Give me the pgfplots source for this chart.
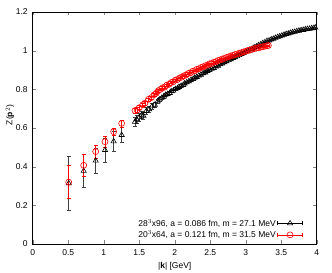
\documentclass[border=0pt]{standalone}
\usepackage{fontspec}
\setmainfont{Liberation Sans}
\usepackage{pgfplots}
\pgfplotsset{compat=1.18}
\usepackage{pgfplotstable}

% 28^3x96 lattice
\pgfplotstableread{
k z e
0.507 0.314 0.142
0.718 0.378 0.086
0.887 0.431 0.065
1.018 0.486 0.062
1.140 0.531 0.050
1.253 0.564 0.040
1.440 0.632 0.025
1.465 0.645 0.022
1.500 0.655 0.020
1.535 0.668 0.020
1.560 0.663 0.018
1.600 0.688 0.018
1.640 0.697 0.015
1.680 0.712 0.015
1.720 0.720 0.012
1.760 0.738 0.012
1.790 0.748 0.010
1.82 0.757 0.009
1.85 0.762 0.009
1.87 0.771 0.008
1.90 0.776 0.008
1.93 0.781 0.008
1.95 0.790 0.007
1.98 0.793 0.007
2.01 0.801 0.007
2.04 0.806 0.006
2.06 0.812 0.006
2.09 0.818 0.006
2.12 0.822 0.006
2.14 0.830 0.005
2.17 0.836 0.005
2.20 0.841 0.005
2.23 0.849 0.005
2.26 0.853 0.005
2.28 0.860 0.005
2.31 0.864 0.004
2.34 0.871 0.004
2.37 0.875 0.004
2.40 0.883 0.004
2.43 0.887 0.004
2.46 0.895 0.004
2.49 0.899 0.004
2.52 0.906 0.004
2.55 0.910 0.004
2.58 0.918 0.003
2.61 0.922 0.003
2.64 0.929 0.003
2.67 0.933 0.003
2.70 0.940 0.003
2.73 0.945 0.003
2.76 0.951 0.003
2.79 0.955 0.003
2.82 0.962 0.003
2.85 0.966 0.003
2.88 0.972 0.003
2.91 0.977 0.003
2.94 0.983 0.003
2.97 0.988 0.003
3.00 0.995 0.003
3.03 0.999 0.003
3.06 1.006 0.003
3.09 1.010 0.003
3.12 1.017 0.003
3.15 1.021 0.003
3.18 1.028 0.003
3.21 1.032 0.003
3.24 1.039 0.003
3.27 1.043 0.003
3.30 1.050 0.003
3.33 1.052 0.003
3.36 1.058 0.003
3.39 1.061 0.003
3.42 1.066 0.003
3.45 1.070 0.003
3.48 1.074 0.003
3.51 1.078 0.003
3.54 1.082 0.003
3.57 1.086 0.003
3.60 1.088 0.003
3.63 1.092 0.003
3.66 1.095 0.003
3.69 1.097 0.003
3.72 1.101 0.003
3.75 1.103 0.003
3.78 1.106 0.003
3.81 1.107 0.003
3.84 1.110 0.003
3.87 1.112 0.003
3.90 1.113 0.003
3.93 1.116 0.003
3.96 1.117 0.003
3.98 1.119 0.003
}\finelat

% 20^3x64 lattice
\pgfplotstableread{
k z e
0.507 0.320 0.086
0.718 0.407 0.058
0.887 0.478 0.035
1.018 0.529 0.030
1.140 0.581 0.020
1.253 0.624 0.018
1.44 0.690 0.012
1.47 0.693 0.012
1.50 0.705 0.010
1.55 0.720 0.010
1.58 0.728 0.010
1.63 0.748 0.008
1.67 0.757 0.008
1.71 0.772 0.008
1.74 0.780 0.008
1.77 0.793 0.006
1.80 0.800 0.006
1.83 0.808 0.006
1.86 0.812 0.005
1.89 0.822 0.005
1.92 0.826 0.005
1.95 0.835 0.005
1.98 0.839 0.005
2.01 0.848 0.004
2.04 0.851 0.004
2.07 0.859 0.004
2.10 0.863 0.004
2.13 0.870 0.004
2.16 0.874 0.004
2.19 0.882 0.004
2.22 0.885 0.004
2.25 0.893 0.004
2.28 0.896 0.003
2.31 0.903 0.003
2.34 0.906 0.003
2.37 0.913 0.003
2.40 0.916 0.003
2.43 0.922 0.003
2.46 0.925 0.003
2.49 0.932 0.003
2.52 0.934 0.003
2.55 0.940 0.003
2.58 0.943 0.003
2.61 0.949 0.003
2.64 0.952 0.003
2.67 0.957 0.003
2.70 0.960 0.003
2.73 0.965 0.003
2.76 0.968 0.003
2.79 0.973 0.003
2.82 0.976 0.003
2.85 0.980 0.003
2.88 0.983 0.003
2.91 0.987 0.003
2.94 0.990 0.003
2.97 0.994 0.003
3.00 0.997 0.003
3.03 1.001 0.003
3.06 1.003 0.003
3.09 1.007 0.003
3.12 1.010 0.003
3.15 1.013 0.003
3.18 1.015 0.003
3.21 1.018 0.003
3.24 1.020 0.003
3.27 1.023 0.003
3.30 1.025 0.003
3.32 1.027 0.003
}\coarselat

\pgfplotsset{
  errlegend/.style={
    legend image code/.code={
      \draw[##1, mark=none, line width=0.6pt]
        (0pt,0pt) -- (25pt,0pt)
        (0pt,-2pt) -- (0pt,2pt)
        (25pt,-2pt) -- (25pt,2pt);
      \draw[##1, only marks] plot coordinates {(12.5pt,0pt)};
    }
  }
}

\begin{document}
\fontsize{8.5}{10}\selectfont
\begin{tikzpicture}
\useasboundingbox (-32.7pt,-29pt) rectangle (299.3pt,244pt);
\begin{axis}[
  scale only axis, width=284pt, height=232pt,
  at={(0,0)}, anchor=south west,
  xmin=0, xmax=4, ymin=0, ymax=1.2,
  xtick={0,0.5,1,1.5,2,2.5,3,3.5,4},
  xticklabels={0,0.5,1,1.5,2,2.5,3,3.5,4},
  ytick={0,0.2,0.4,0.6,0.8,1,1.2},
  yticklabels={0,0.2,0.4,0.6,0.8,1,1.2},
  tick align=inside, major tick length=3.5pt,
  axis line style={line width=0.6pt},
  /pgf/number format/assume math mode=true,
  tick label style={font=\fontsize{8.5}{10}\selectfont},
  xticklabel style={yshift=-3pt},
  yticklabel style={xshift=-2pt},
  xlabel={|\textbf{k}| [GeV]},
  ylabel={Z(\textbf{p}$^2$)},
  xlabel style={at={(axis description cs:0.5,-0.098)}, anchor=center},
  ylabel style={at={(axis description cs:-0.08,0.556)}, anchor=center},
  legend plot pos=right,
  legend cell align=right,
  legend style={draw=none, fill=none, at={(axis description cs:0.952,0.015)},
    anchor=south east, inner sep=0pt, row sep=0.5pt,
    nodes={inner sep=1.5pt},
    font=\fontsize{8.5}{10}\selectfont},
]
\addplot[black, only marks, mark=triangle, mark size=3pt,
  mark options={line width=0.6pt}, errlegend,
  error bars/.cd, y dir=both, y explicit,
  error bar style={black!75, line width=0.6pt},
  error mark options={rotate=90, mark size=2pt, black!75, line width=0.6pt},
  ] table[x=k, y=z, y error=e] {\finelat};
\addlegendentry{28$^3$x96, a = 0.086 fm, m = 27.1 MeV}
\addplot[red, only marks, mark=o, mark size=3pt,
  mark options={line width=0.6pt}, errlegend,
  error bars/.cd, y dir=both, y explicit,
  error bar style={red, line width=0.6pt},
  error mark options={rotate=90, mark size=2pt, red, line width=0.6pt},
  ] table[x=k, y=z, y error=e] {\coarselat};
\addlegendentry{20$^3$x64, a = 0.121 fm, m = 31.5 MeV}
\end{axis}
\end{tikzpicture}
\end{document}
